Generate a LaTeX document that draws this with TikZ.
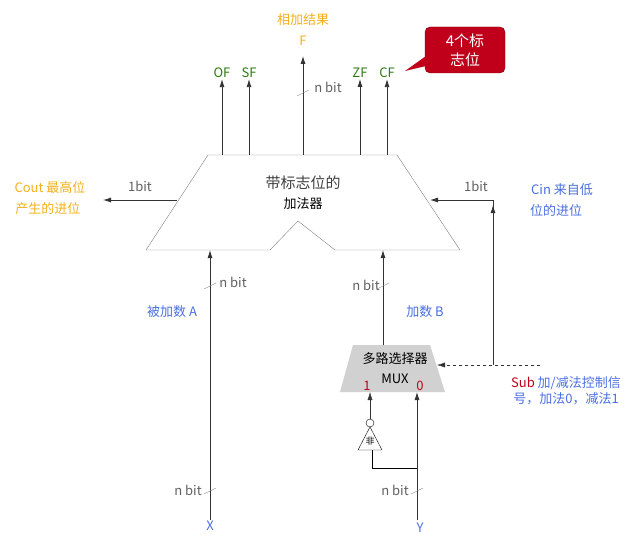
\documentclass[tikz,border=0pt]{standalone}
\usepackage{fontspec}
\setmainfont{Noto Sans CJK SC}
\usetikzlibrary{arrows.meta,shapes.geometric,positioning}
\definecolor{resorange}{HTML}{F2B01E}
\definecolor{resblue}{HTML}{4A6FE0}
\definecolor{resgreen}{HTML}{2E7A12}
\definecolor{resred}{HTML}{C0001A}
\definecolor{resgray}{HTML}{606060}
\tikzset{
    sig/.style={-{Latex[length=8pt,width=5pt]}, thick, black!80},
    slash/.style={gray, thin},
    lbl/.style={font=\fontsize{13}{16}\selectfont, inner sep=1pt},
    bits/.style={lbl, text=resgray},
}

\begin{document}
\begin{tikzpicture}[x=1pt, y=-1pt]
    \useasboundingbox (0,0) rectangle (641,543);

    % adder body
    \draw[gray] (208,155) -- (397,155) -- (460,250) -- (335,250) -- (298,221) -- (270,250) -- (146,250) -- cycle;
    \node[lbl, font=\fontsize{15}{18}\selectfont, text=black!75] (addA) at (303,183) {带标志位的};
    \node[lbl] (addB) at (303,204) {加法器};

    % outputs
    \foreach \name/\x in {OF/222, SF/249, ZF/360, CF/387} {
        \coordinate (\name s) at (\x,155);
        \node[lbl, text=resgreen] (\name) at (\x,73) {\name};
        \draw[sig] (\name s) -- (\name.south);
    }
    \coordinate (Fs) at (303,155);
    \coordinate (Ft) at (303,56);
    \draw[sig] (Fs) -- (Ft);
    \node[lbl, text=resorange] (Fa) at (303,20) {相加结果};
    \node[lbl, text=resorange] (Fb) at (303,41) {F};
    \draw[slash] (297,96) -- (309,90);
    \node[bits] (Fbits) at (328,87) {n bit};

    % callout
    \node[draw=resred!70!black, fill=resred, rounded corners=5pt, text=white, align=center,
          minimum width=80pt, minimum height=46pt, lbl, font=\fontsize{15}{19}\selectfont] (flags) at (465,50) {4个标\\志位};
    \fill[resred] (426,56) -- (405,71) -- (426,66) -- cycle;

    % carry out
    \coordinate (Cs) at (177,200);
    \coordinate (Ct) at (103,200);
    \draw[sig] (Cs) -- (Ct);
    \node[bits] (Cbit) at (140,186) {1bit};
    \node[lbl, text=resorange] (Couta) at (50,188) {Cout 最高位};
    \node[lbl, text=resorange] (Coutb) at (48,209) {产生的进位};

    % carry in
    \coordinate (Cin0) at (493,365);
    \coordinate (Cin1) at (493,200);
    \coordinate (Cin2) at (430,200);
    \draw[thick, black!80] (Cin0) -- (Cin1);
    \draw[sig] (Cin0) -- (493,205);
    \draw[sig] (Cin1) -- (Cin2);
    \node[bits] (Cinbit) at (476,186) {1bit};
    \node[lbl, text=resblue] (Cina) at (562,190) {Cin 来自低};
    \node[lbl, text=resblue] (Cinb) at (556,211) {位的进位};

    % input A
    \node[lbl, text=resblue] (X) at (210,526) {X};
    \coordinate (As) at (210,250);
    \draw[sig] (X.north) -- (As);
    \draw[slash] (204,289) -- (216,283);
    \node[bits] (Abit1) at (233,282) {n bit};
    \draw[slash] (204,494) -- (216,488);
    \node[bits] (Abit2) at (188,490) {n bit};
    \node[lbl, text=resblue] (Alab) at (172,312) {被加数 A};

    % mux
    \fill[black!18] (353,345) -- (430,345) -- (445,392) -- (340,392) -- cycle;
    \node[lbl] (muxa) at (395,359) {多路选择器};
    \node[lbl] (muxb) at (395,379) {MUX};
    \node[lbl, text=resred] (m1) at (367,386) {1};
    \node[lbl, text=resred] (m0) at (420,386) {0};

    % input B
    \coordinate (Bs) at (383,345);
    \coordinate (Bt) at (383,250);
    \draw[sig] (Bs) -- (Bt);
    \draw[slash] (377,289) -- (389,283);
    \node[bits] (Bbit) at (366,285) {n bit};
    \node[lbl, text=resblue] (Blab) at (425,312) {加数 B};

    % sub control
    \coordinate (Sub0) at (540,365);
    \coordinate (Sub1) at (437,365);
    \draw[sig, thin, dashed] (Sub0) -- (Sub1);
    \node[lbl, align=center, text=resblue] (sub) at (566,391) {\textcolor{resred}{Sub} 加/减法控制信\\号，加法0，减法1};

    % not gate
    \coordinate (n1) at (370,392);
    \draw[thin] (370,427) -- (358,450) -- (382,450) -- cycle;
    \node[font=\fontsize{9}{10}\selectfont, inner sep=0pt] (notl) at (370,441) {非};
    \draw[thin] (370,423) circle (4);
    \draw[sig, thin] (370,419) -- (n1);
    \coordinate (n2) at (372,450);

    % input Y
    \node[lbl, text=resblue] (Y) at (420,528) {Y};
    \coordinate (m0s) at (417,392);
    \draw[sig] (417,520) -- (m0s);
    \draw[thin] (n2) -- (372,468) -- (417,468);
    \draw[slash] (411,494) -- (423,488);
    \node[bits] (Ybit) at (395,490) {n bit};
\end{tikzpicture}
\end{document}
